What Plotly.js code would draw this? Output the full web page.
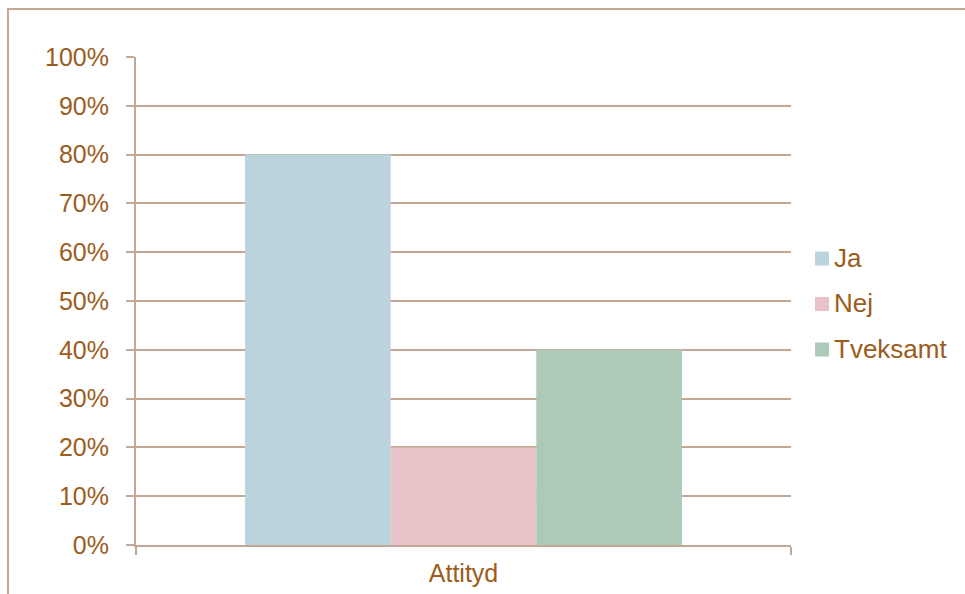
<!DOCTYPE html>
<html>
<head>
<meta charset="utf-8">
<script src="https://cdn.plot.ly/plotly-3.0.1.min.js"></script>
<style>html,body{margin:0;padding:0;background:#fff;}#chart{width:965px;height:594px;}</style>
</head>
<body>
<div id="chart"></div>
<script>
const categories = ["Attityd"];
const seriesNames = ["Ja", "Nej", "Tveksamt"];
const seriesValues = [[0.80], [0.20], [0.40]];
const seriesColors = ["#BAD3DC", "#E8C3C7", "#ADC9B8"];

const textColor = "#9C5C1C";
const lineColor = "#C4A896";
const fontFamily = "Liberation Sans, Arial, sans-serif";

const traces = seriesNames.map((name, i) => ({
  type: "bar",
  name: name,
  x: categories,
  y: seriesValues[i],
  marker: {color: seriesColors[i], line: {width: 0}},
  hoverinfo: "name+y"
}));

const W = 965, H = 594, L = 136, R = 174, T = 57, B = 49;
const pw = W - L - R, ph = H - T - B;
const px = v => (v - L) / pw;
const py = v => (H - B - v) / ph;

// custom legend (symbol squares + labels)
const legendCenters = [258.5, 304, 349.5];
const legendShapes = seriesNames.map((n, i) => ({
  type: "rect", xref: "paper", yref: "paper",
  x0: px(815), x1: px(829), y0: py(legendCenters[i] + 7), y1: py(legendCenters[i] - 7),
  fillcolor: seriesColors[i], line: {width: 0}
}));
const legendAnn = seriesNames.map((n, i) => ({
  xref: "paper", yref: "paper", x: px(832), y: py(legendCenters[i] - 1),
  xanchor: "left", yanchor: "middle", showarrow: false, text: n,
  font: {family: fontFamily, size: 26, color: textColor}
}));

const layout = {
  width: W, height: H,
  margin: {l: L, r: R, t: T, b: B, pad: 0},
  paper_bgcolor: "#ffffff",
  plot_bgcolor: "#ffffff",
  font: {family: fontFamily, size: 25, color: textColor},
  barmode: "group",
  bargap: 0.333,
  bargroupgap: 0,
  showlegend: false,
  xaxis: {
    type: "category",
    showline: true, linecolor: lineColor, linewidth: 2,
    ticks: "outside", tickson: "boundaries", ticklen: 8, tickcolor: lineColor, tickwidth: 2,
    showgrid: false, zeroline: false,
    ticklabelstandoff: 5,
    tickfont: {size: 25, color: textColor}
  },
  yaxis: {
    range: [0, 1], dtick: 0.1, tick0: 0, tickformat: ".0%",
    showline: true, linecolor: lineColor, linewidth: 2,
    ticks: "outside", ticklen: 8, tickcolor: lineColor, tickwidth: 2,
    showgrid: true, gridcolor: lineColor, gridwidth: 2,
    zeroline: false,
    ticklabelstandoff: 12,
    tickfont: {size: 25, color: textColor}
  },
  annotations: legendAnn,
  shapes: [{
    type: "rect", xref: "paper", yref: "paper",
    x0: px(8), x1: px(975), y0: py(610), y1: py(9),
    line: {color: lineColor, width: 2}, fillcolor: "rgba(0,0,0,0)", layer: "below"
  }].concat(legendShapes)
};

Plotly.newPlot("chart", traces, layout, {displayModeBar: false, staticPlot: true});
</script>
</body>
</html>
